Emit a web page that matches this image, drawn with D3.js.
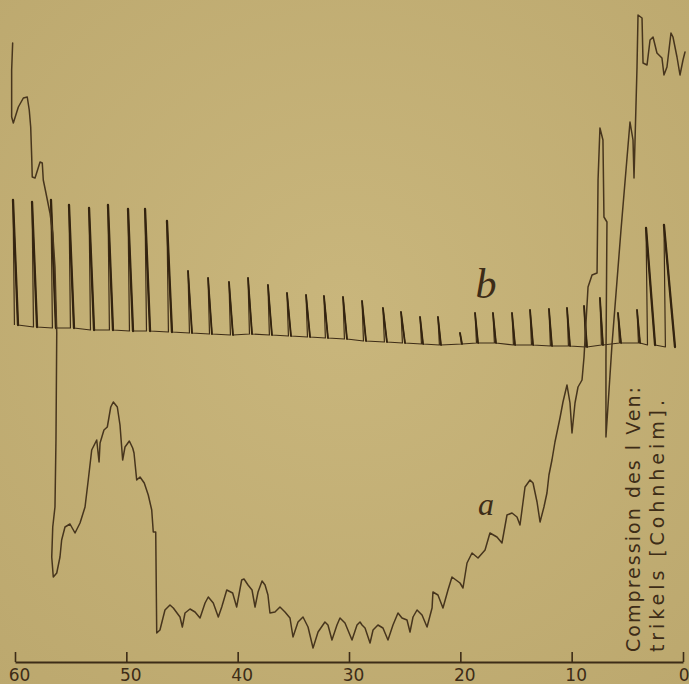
<!DOCTYPE html>
<html>
<head>
<meta charset="utf-8">
<script src="https://cdn.jsdelivr.net/npm/d3@7/dist/d3.min.js"></script>
<style>
  html, body { margin: 0; padding: 0; background: #c3ae74; }
  svg { display: block; }
</style>
</head>
<body>
<svg id="chart" width="689" height="684"></svg>
<script>
// Time axis (seconds, counted back from the end of the record)
const tickValues = [60, 50, 40, 30, 20, 10, 0];

// Trace a: blood-pressure curve, time (s) and pen height above the time line
const aTime = [
  60.21, 60.30, 60.30, 60.15, 59.70, 59.25, 58.90, 58.72, 58.59, 58.50,
  58.45, 58.20, 57.75, 57.55, 57.46, 57.22, 56.86, 56.61, 56.41, 56.25,
  56.32, 56.41, 56.61, 56.70, 56.56, 56.25, 55.96, 55.81, 55.51, 55.06,
  54.61, 54.16, 53.71, 53.42, 53.11, 52.66, 52.45, 52.36, 52.01, 51.71,
  51.40, 51.17, 50.81, 50.57, 50.33, 50.12, 49.73, 49.43, 49.31, 49.07,
  48.77, 48.39, 48.03, 47.72, 47.58, 47.36, 47.27, 46.98, 46.53, 46.08,
  45.78, 45.18, 44.97, 44.73, 44.28, 43.83, 43.38, 42.93, 42.64, 42.19,
  41.74, 41.43, 40.98, 40.45, 40.09, 39.64, 39.43, 39.07, 38.71, 38.44,
  38.17, 37.81, 37.54, 37.28, 37.10, 36.65, 36.20, 35.75, 35.30, 35.03,
  34.58, 34.13, 33.68, 33.23, 32.78, 32.16, 31.89, 31.53, 31.08, 30.81,
  30.36, 29.73, 29.28, 29.01, 28.83, 28.56, 28.11, 27.84, 27.40, 26.95,
  26.50, 26.05, 25.60, 25.24, 24.79, 24.52, 24.25, 23.89, 23.44, 22.99,
  22.54, 22.46, 22.01, 21.56, 21.11, 20.75, 20.03, 19.76, 19.40, 18.95,
  18.41, 17.78, 17.34, 16.71, 16.26, 15.81, 15.36, 14.91, 14.64, 14.19,
  13.74, 13.47, 13.11, 12.84, 12.49, 12.22, 12.04, 11.77, 11.50, 11.05,
  10.78, 10.42, 10.15, 9.97, 9.70, 9.43, 9.07, 8.89, 8.53, 8.17,
  7.72, 7.63, 7.46, 7.19, 7.10, 6.83, 6.92, 6.92, 6.38, 5.57,
  4.76, 4.49, 4.40, 4.13, 4.04, 3.68, 3.59, 3.23, 2.96, 2.69,
  2.34, 1.89, 1.71, 1.44, 1.08, 0.90, 0.54, 0.27, 0.00, -0.18
];
const aValue = [
  619, 592, 545, 539, 555, 564, 565, 552, 535, 505,
  485, 484, 500, 499, 482, 469, 449, 429, 395, 329,
  222, 155, 135, 105, 85, 89, 105, 122, 135, 138,
  129, 139, 155, 182, 212, 222, 200, 219, 232, 235,
  255, 260, 255, 237, 202, 215, 221, 214, 209, 182,
  185, 179, 167, 152, 130, 130, 29, 32, 52, 57,
  54, 45, 35, 49, 53, 50, 44, 59, 65, 59,
  45, 55, 72, 69, 55, 82, 83, 77, 72, 55,
  70, 81, 77, 67, 49, 50, 55, 50, 44, 25,
  40, 45, 35, 14, 30, 40, 37, 22, 37, 44,
  39, 22, 37, 40, 37, 34, 19, 32, 37, 34,
  22, 37, 49, 44, 42, 30, 45, 52, 47, 35,
  54, 70, 67, 54, 72, 85, 79, 74, 99, 109,
  104, 112, 129, 125, 119, 147, 149, 145, 137, 175,
  182, 179, 160, 140, 155, 169, 187, 202, 220, 244,
  260, 277, 259, 229, 259, 275, 282, 305, 375, 387,
  389, 482, 534, 522, 445, 440, 302, 225, 317, 432,
  540, 522, 484, 595, 647, 644, 599, 597, 622, 625,
  609, 604, 587, 595, 629, 625, 605, 587, 602, 610
];

// Trace b: heart beats - time the rise starts, time of the peak, peak height,
// time the fall ends, baseline height
const bFootTime = [
  60.05, 58.34, 56.64, 55.02, 53.22, 51.52, 49.72, 48.19, 46.22, 44.33,
  42.53, 40.65, 38.94, 37.15, 35.44, 33.73, 32.12, 30.41, 28.70, 26.82,
  25.20, 23.49, 21.88, 19.90, 18.55, 16.94, 15.23, 13.61, 11.91, 10.29,
  8.76, 7.33, 5.71, 4.00, 3.19, 1.58
];
const bPeakTime = [
  60.18, 58.47, 56.77, 55.15, 53.35, 51.65, 49.85, 48.32, 46.35, 44.46,
  42.66, 40.78, 39.07, 37.28, 35.57, 33.86, 32.25, 30.54, 28.83, 26.95,
  25.33, 23.62, 22.01, 20.03, 18.68, 17.07, 15.36, 13.74, 12.04, 10.42,
  8.89, 7.46, 5.84, 4.13, 3.32, 1.71
];
const bPeakValue = [
  462, 460, 462, 457, 454, 457, 453, 453, 441, 391,
  384, 380, 384, 377, 369, 367, 366, 365, 361, 354,
  350, 345, 345, 329, 349, 349, 349, 352, 353, 354,
  356, 364, 349, 352, 434, 437
];
const bEndTime = [
  59.73, 58.02, 56.32, 54.70, 52.90, 51.20, 49.40, 47.87, 45.90, 44.10,
  42.31, 40.42, 38.71, 36.92, 35.21, 33.50, 31.89, 30.18, 28.47, 26.59,
  24.97, 23.35, 21.74, 19.85, 18.41, 16.80, 15.09, 13.47, 11.77, 10.15,
  8.62, 7.19, 5.57, 3.86, 2.51, 0.72
];
const bBaseValue = [
  337, 335, 334, 334, 332, 332, 331, 331, 330, 329,
  328, 327, 328, 327, 326, 325, 324, 323, 321, 320,
  319, 318, 317, 318, 319, 319, 317, 317, 316, 316,
  315, 317, 319, 319, 317, 315
];

const traceLabels = ["a", "b"];
const noteLines = ["Compression des l Ven:", "trikels [Cohnheim]."];

const W = 689, H = 684;
const svg = d3.select("#chart");

// paper tone, a little lighter towards the middle
const defs = svg.append("defs");
const grad = defs.append("radialGradient").attr("id", "paper")
  .attr("cx", "50%").attr("cy", "45%").attr("r", "75%");
grad.append("stop").attr("offset", "0%").attr("stop-color", "#c9b67c");
grad.append("stop").attr("offset", "100%").attr("stop-color", "#bca86e");
svg.append("rect").attr("width", W).attr("height", H).attr("fill", "url(#paper)");

const x = d3.scaleLinear().domain([60, 0]).range([15, 683]);
const y = d3.scaleLinear().domain([0, 660]).range([662, 2]);

const ink = "#3d2c17";

// time line with upward ticks
const axis = d3.axisBottom(x)
  .tickValues(tickValues)
  .tickSizeInner(-10)
  .tickSizeOuter(0)
  .tickPadding(7)
  .tickFormat(d3.format("d"));
const gAxis = svg.append("g")
  .attr("transform", `translate(0,${y(0)})`)
  .call(axis);
gAxis.select(".domain").attr("stroke", ink).attr("stroke-width", 1.8);
gAxis.selectAll(".tick line").attr("stroke", ink).attr("stroke-width", 1.6);
gAxis.selectAll(".tick text")
  .attr("fill", ink)
  .attr("font-family", "DejaVu Sans, sans-serif")
  .attr("font-size", 17)
  .attr("dx", 4);
// last label kept inside the right edge
gAxis.selectAll(".tick text").filter(d => d === 0)
  .attr("text-anchor", "end")
  .attr("dx", 6);

// trace b: quick rise, falling stroke, baseline to the next beat
const bPoints = [];
bPeakTime.forEach((t, i) => {
  bPoints.push([bFootTime[i], bBaseValue[i]]);
  bPoints.push([t, bPeakValue[i]]);
  bPoints.push([bEndTime[i], bBaseValue[i]]);
});
const line = d3.line().x(d => x(d[0])).y(d => y(d[1]));
svg.append("path")
  .attr("d", line(bPoints))
  .attr("fill", "none")
  .attr("stroke", ink)
  .attr("stroke-width", 1.2)
  .attr("stroke-linejoin", "round");
// heavier falling strokes
svg.append("g").selectAll("line")
  .data(bPeakTime)
  .join("line")
  .attr("x1", (t) => x(t))
  .attr("y1", (t, i) => y(bPeakValue[i]))
  .attr("x2", (t, i) => x(bEndTime[i]))
  .attr("y2", (t, i) => y(bBaseValue[i]))
  .attr("stroke", "#33230f")
  .attr("stroke-width", (t, i) => bPeakValue[i] - bBaseValue[i] > 80 ? 2.3 : 1.8)
  .attr("stroke-linecap", "round");

// trace a
const aPoints = aTime.map((t, i) => [t, aValue[i]]);
svg.append("path")
  .attr("d", line(aPoints))
  .attr("fill", "none")
  .attr("stroke", "#47351d")
  .attr("stroke-width", 1.5)
  .attr("stroke-linejoin", "round")
  .attr("stroke-linecap", "round");

// trace letters
svg.append("text")
  .attr("x", x(17.7)).attr("y", y(147))
  .attr("text-anchor", "middle")
  .attr("font-family", "Liberation Serif, serif")
  .attr("font-style", "italic")
  .attr("font-size", 32)
  .attr("fill", ink)
  .text(traceLabels[0]);
svg.append("text")
  .attr("x", x(17.7)).attr("y", y(364))
  .attr("text-anchor", "middle")
  .attr("font-family", "Liberation Serif, serif")
  .attr("font-style", "italic")
  .attr("font-size", 42)
  .attr("fill", ink)
  .text(traceLabels[1]);

// vertical note at the right edge
const noteX = [640, 664];
const noteLen = [265, 252];
noteLines.forEach((s, i) => {
  svg.append("text")
    .attr("transform", `translate(${noteX[i]},652) rotate(-90)`)
    .attr("font-family", "DejaVu Sans, sans-serif")
    .attr("font-size", 19)
    .attr("textLength", noteLen[i])
    .attr("lengthAdjust", "spacing")
    .attr("fill", ink)
    .text(s);
});
</script>
</body>
</html>
